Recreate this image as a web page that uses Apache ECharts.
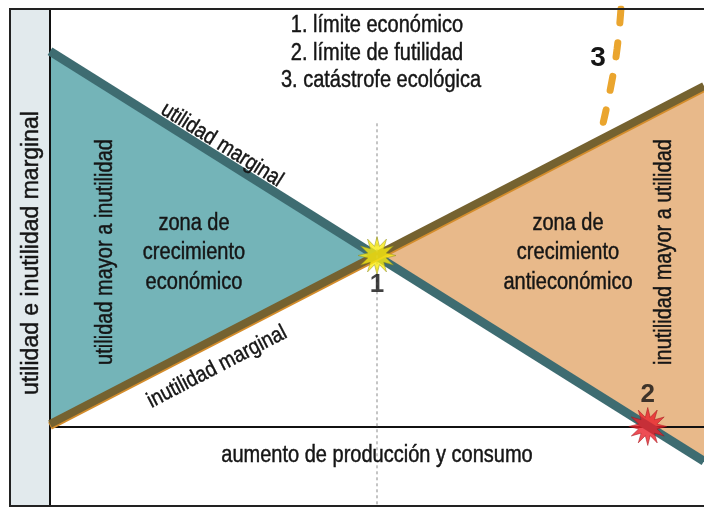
<!DOCTYPE html>
<html lang="es">
<head>
<meta charset="UTF-8">
<title>Crecimiento antieconómico</title>
<style>
    html, body { margin: 0; padding: 0; background: #fff; }
    #echart { width: 704px; height: 509px; }
</style>
</head>
<body>

<div id="echart"></div>

<script src="https://cdn.jsdelivr.net/npm/echarts@6/dist/echarts.min.js"></script>
<script>
    // eje x: aumento de producción (0-100), eje y: utilidad / inutilidad
    const xExtremos = [0, 100];
    const utilidadMarginal = [75.5, -7];
    const inutilidadMarginal = [0.5, 68.5];
    const limiteEconomico = [50, 34.4];
    const limiteFutilidad = [91.4, 0];
    const catastrofeX = [87.3, 86.7, 85.8, 84.6];
    const catastrofeY = [84, 75.9, 68.7, 61.2];
    const guiaY = [61, -16];
    const leyenda = ["1. límite económico", "2. límite de futilidad", "3. catástrofe ecológica"];

    const FONT = '"Liberation Sans", Arial, sans-serif';
    const myChart = echarts.init(document.getElementById("echart"));

    function starPath(n, inner) {
        let d = "";
        for (let i = 0; i < n * 2; i++) {
            const r = i % 2 ? inner : 1;
            const a = Math.PI * i / n - Math.PI / 2;
            d += (i ? "L" : "M") + (50 + 50 * r * Math.cos(a)).toFixed(2) + " " + (50 + 50 * r * Math.sin(a)).toFixed(2) + " ";
        }
        return "path://" + d + "Z";
    }

    function zona(points, color) {
        return {
            type: "custom",
            z: 1,
            silent: true,
            data: [0],
            renderItem: (params, api) => ({
                type: "polygon",
                shape: { points: points.map((p) => api.coord(p)) },
                style: { fill: color }
            })
        };
    }

    const zonaEconomica = [
        [xExtremos[0], utilidadMarginal[0]],
        limiteEconomico,
        [xExtremos[0], inutilidadMarginal[0]]
    ];
    const zonaAntieconomica = [
        limiteEconomico,
        [xExtremos[1], inutilidadMarginal[1]],
        [xExtremos[1], utilidadMarginal[1]]
    ];

    // texto condensado: tamaño grande y escala horizontal reducida
    function texto(str, x, y, opts) {
        opts = opts || {};
        const sx = opts.scaleX || 0.87;
        return {
            type: "text",
            x: x,
            y: y,
            rotation: opts.rotation || 0,
            scaleX: sx,
            z: 20,
            silent: true,
            style: {
                text: str,
                font: (opts.weight || "normal") + " " + (opts.size || 23) + "px " + FONT,
                fill: "#151515",
                stroke: "#151515",
                lineWidth: opts.weight ? 0 : 0.45,
                align: "center",
                verticalAlign: "middle",
                lineHeight: opts.lineHeight || 29.5
            }
        };
    }

    const option = {
        animation: false,
        backgroundColor: "#fff",
        grid: { left: 50, right: 0, top: 9, bottom: 3 },
        xAxis: {
            type: "value", min: 0, max: 100, z: 3,
            axisLine: { onZero: true, lineStyle: { color: "#111", width: 2 } },
            axisTick: { show: false }, axisLabel: { show: false }, splitLine: { show: false }
        },
        yAxis: {
            type: "value", min: -16, max: 84, z: 3,
            axisLine: { show: true, onZero: false, lineStyle: { color: "#111", width: 2 } },
            axisTick: { show: false }, axisLabel: { show: false }, splitLine: { show: false }
        },
        graphic: [
            { type: "rect", z: -1, shape: { x: 10, y: 9, width: 40, height: 497 }, style: { fill: "#e2eaed" } },
            { type: "rect", z: 30, shape: { x: 10, y: 9, width: 720, height: 497 }, style: { fill: null, stroke: "#222", lineWidth: 2 } },
            texto(leyenda[0], 377, 26),
            texto(leyenda[1], 377, 54),
            texto(leyenda[2], 381, 81),
            texto("utilidad e inutilidad marginal", 32, 253, { rotation: Math.PI / 2, scaleX: 1 }),
            texto("utilidad mayor a inutilidad", 106, 252, { rotation: Math.PI / 2 }),
            texto("inutilidad mayor a utilidad", 665, 252, { rotation: Math.PI / 2 }),
            texto("zona de\ncrecimiento\neconómico", 194, 253),
            texto("zona de\ncrecimiento\nantieconómico", 568, 253),
            texto("utilidad marginal", 222, 145, { rotation: -0.56, size: 22 }),
            texto("inutilidad marginal", 217, 367, { rotation: 0.48, size: 22 }),
            texto("aumento de producción y consumo", 377, 456),
            texto("3", 598, 58, { size: 28, weight: "bold", scaleX: 1 })
        ],
        series: [
            zona(zonaEconomica, "#74b4b8"),
            zona(zonaAntieconomica, "#e8b98a"),
            {
                type: "line", z: 4, silent: true, symbol: "none",
                data: xExtremos.map((x, i) => [x, utilidadMarginal[i]]),
                lineStyle: { color: "#3e6c71", width: 9 }
            },
            {
                type: "line", z: 4, silent: true, symbol: "none",
                data: xExtremos.map((x, i) => [x, inutilidadMarginal[i]]),
                lineStyle: { color: "#756230", width: 8, shadowColor: "#d48d2c", shadowBlur: 0, shadowOffsetY: 2 }
            },
            {
                type: "line", z: 5, silent: true, symbol: "none",
                data: guiaY.map((y) => [limiteEconomico[0], y]),
                lineStyle: { color: "#8a8a8a", width: 1, type: [3, 3] }
            },
            {
                type: "line", z: 5, silent: true, symbol: "none", smooth: true,
                data: catastrofeX.map((x, i) => [x, catastrofeY[i]]),
                lineStyle: { color: "#eaa52e", width: 7, cap: "round", type: [14, 20] }
            },
            {
                type: "scatter", z: 8, silent: true,
                data: [limiteEconomico],
                symbol: starPath(12, 0.5),
                symbolSize: 38,
                itemStyle: { color: "#f7ea12", borderColor: "#8c8a20", borderWidth: 0.6 },
                label: { show: true, position: "bottom", distance: -3, formatter: "1", fontSize: 26, fontWeight: "bold", color: "#111", fontFamily: FONT }
            },
            {
                type: "scatter", z: 8, silent: true,
                data: [limiteFutilidad],
                symbol: starPath(12, 0.5),
                symbolSize: 38,
                itemStyle: { color: "#e8202a", borderColor: "#9e1018", borderWidth: 0.6 },
                label: { show: true, position: "top", distance: -1, formatter: "2", fontSize: 26, fontWeight: "bold", color: "#111", fontFamily: FONT }
            }
        ]
    };

    myChart.setOption(option);
</script>

</body>
</html>
